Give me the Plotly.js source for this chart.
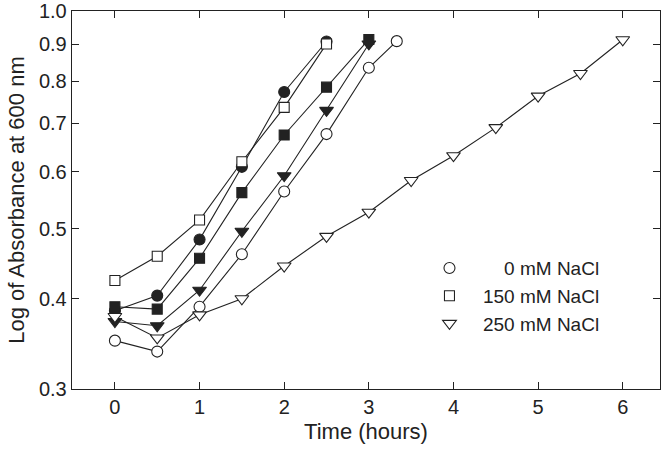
<!DOCTYPE html>
<html>
<head>
<meta charset="utf-8">
<script src="https://cdn.plot.ly/plotly-3.0.1.min.js"></script>
<style>html,body{margin:0;padding:0;background:#fff;}#chart{width:666px;height:451px;}</style>
</head>
<body>
<div id="chart"></div>
<script>
// Time points (hours)
const timeShort = [0, 0.5, 1, 1.5, 2, 2.5];
const timeMid = [0, 0.5, 1, 1.5, 2, 2.5, 3];
const time0mM = [0, 0.5, 1, 1.5, 2, 2.5, 3, 3.33];
const time250mM = [0, 0.5, 1, 1.5, 2, 2.5, 3, 3.5, 4, 4.5, 5, 5.5, 6];

// Absorbance at 600 nm, open symbols (legend series)
const open0mM = [0.350, 0.338, 0.390, 0.461, 0.563, 0.676, 0.835, 0.909];
const open150mM = [0.424, 0.458, 0.514, 0.619, 0.736, 0.901];
const open250mM = [0.378, 0.353, 0.380, 0.400, 0.444, 0.488, 0.527, 0.583, 0.631, 0.690, 0.763, 0.820, 0.913];

// Absorbance at 600 nm, filled symbols
const filled0mM = [0.385, 0.404, 0.483, 0.609, 0.773, 0.908];
const filled150mM = [0.390, 0.387, 0.455, 0.561, 0.674, 0.785, 0.914];
const filled250mM = [0.372, 0.367, 0.411, 0.496, 0.592, 0.729, 0.901];

// Axis ticks
const yTickVals = [0.3, 0.4, 0.5, 0.6, 0.7, 0.8, 0.9, 1.0];
const yTickText = ['0.3', '0.4', '0.5', '0.6', '0.7', '0.8', '0.9', '1.0'];
const xTickVals = [0, 1, 2, 3, 4, 5, 6];

const ink = '#222222';
const series = [
  {name: 'filled 0 mM', x: timeShort, y: filled0mM, symbol: 'circle', fill: ink, legend: false, size: 11},
  {name: 'filled 150 mM', x: timeMid, y: filled150mM, symbol: 'square', fill: ink, legend: false, size: 10},
  {name: 'filled 250 mM', x: timeMid, y: filled250mM, symbol: 'triangle-down', fill: ink, legend: false, size: 12},
  {name: '\u2007\u20070 mM NaCl', x: time0mM, y: open0mM, symbol: 'circle', fill: '#ffffff', legend: true, size: 11},
  {name: '150 mM NaCl', x: timeShort, y: open150mM, symbol: 'square', fill: '#ffffff', legend: true, size: 10},
  {name: '250 mM NaCl', x: time250mM, y: open250mM, symbol: 'triangle-down', fill: '#ffffff', legend: true, size: 12}
];

const traces = [];
series.forEach(s => {
  traces.push({x: s.x, y: s.y, mode: 'lines', type: 'scatter', showlegend: false,
    line: {color: ink, width: 1.1}, hoverinfo: 'skip'});
});
series.forEach(s => {
  traces.push({x: s.x, y: s.y, mode: 'markers', type: 'scatter', name: s.name, showlegend: s.legend,
    marker: {symbol: s.symbol, size: s.size, color: s.fill, line: {color: ink, width: 1.1}}});
});

const layout = {
  width: 666, height: 451,
  margin: {l: 72, r: 6, t: 11, b: 62},
  paper_bgcolor: '#ffffff', plot_bgcolor: '#ffffff',
  font: {family: 'Liberation Sans, Arial, sans-serif', color: ink, size: 19},
  xaxis: {
    range: [-0.507, 6.44], tickvals: xTickVals, ticks: 'inside', ticklen: 7, tickwidth: 1,
    tickcolor: ink, showline: true, linecolor: ink, linewidth: 1.3, mirror: 'ticks',
    showgrid: false, zeroline: false, tickfont: {size: 20, color: ink},
    title: {text: 'Time (hours)', font: {size: 22, color: ink}, standoff: 6}
  },
  yaxis: {
    type: 'log', range: [Math.log10(0.3), 0.0003], tickvals: yTickVals, ticktext: yTickText,
    ticks: 'inside', ticklen: 7, tickwidth: 1, tickcolor: ink, showline: true, linecolor: ink,
    linewidth: 1.3, mirror: 'ticks', showgrid: false, zeroline: false,
    tickfont: {size: 20, color: ink}, ticklabeloverflow: 'allow',
    title: {text: 'Log of Absorbance at 600 nm', font: {size: 22, color: ink}, standoff: 8}
  },
  showlegend: true,
  legend: {
    x: 0.585, xanchor: 'left', y: 0.37, yanchor: 'top',
    bgcolor: 'rgba(0,0,0,0)', borderwidth: 0, itemwidth: 57,
    font: {size: 19, color: ink}, tracegroupgap: 0, itemclick: false
  }
};
Plotly.newPlot('chart', traces, layout, {displayModeBar: false, staticPlot: true});
</script>
</body>
</html>
